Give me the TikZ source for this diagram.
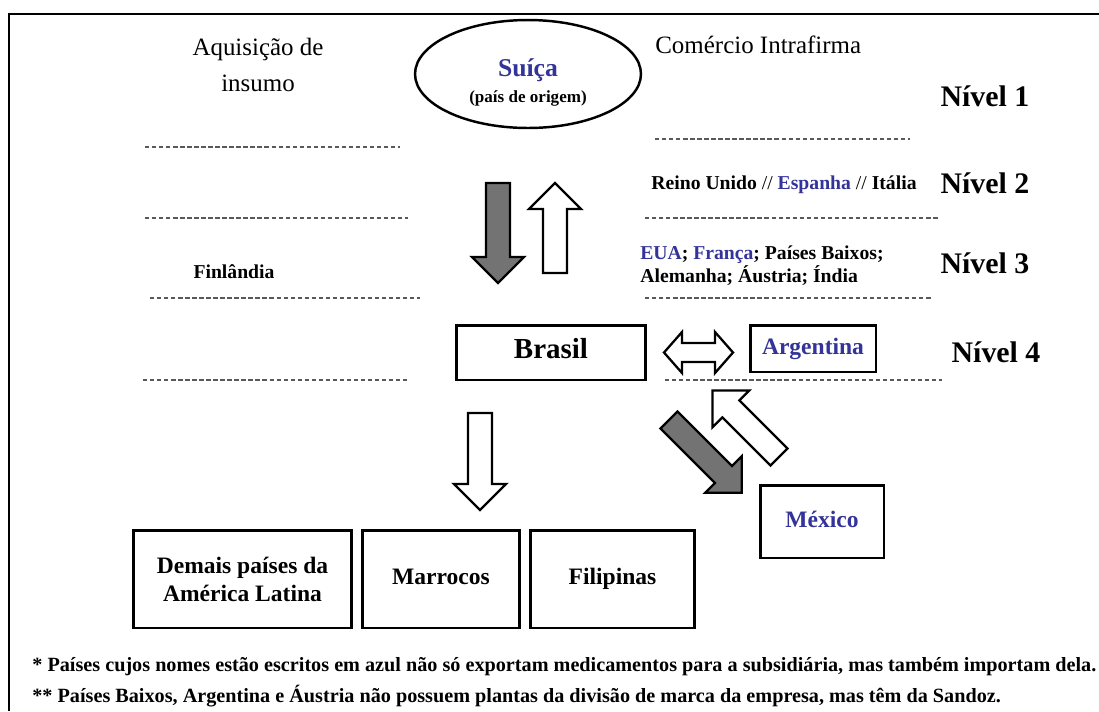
\documentclass[tikz,border=0pt]{standalone}
\usepackage{fontspec}
\setmainfont{Liberation Serif}
\usetikzlibrary{shapes.geometric}
\definecolor{paisazul}{RGB}{51,51,153}

% block arrow: style, tail point, angle, length
\newcommand{\blockarrow}[4]{%
  \draw[#1, shift={#2}, rotate=#3] (0,-12) -- ({#4-26},-12) -- ({#4-26},-26)
    -- (#4,0) -- ({#4-26},26) -- ({#4-26},12) -- (0,12) -- cycle;}

\tikzset{
  bx/.style={draw, line width=1.7pt, inner sep=2pt, align=center,
    font=\bfseries\fontsize{13.4}{16}\selectfont},
  linha/.style={text height=1.45ex, text depth=0pt},
  titulo/.style={align=center, inner sep=0pt, font=\fontsize{14.2}{20.5}\selectfont},
  nivel/.style={inner sep=0pt, font=\bfseries\fontsize{17}{20}\selectfont},
  pais/.style={inner sep=0pt, align=left, font=\bfseries\fontsize{11.2}{13}\selectfont},
  nota/.style={inner sep=0pt, anchor=west, font=\bfseries\fontsize{11.5}{13}\selectfont},
  sep/.style={black!65, line width=0.6pt, dash pattern=on 2.5pt off 1.5pt},
  darkarr/.style={draw, line width=1.3pt, fill=black!55, line join=miter},
  whitearr/.style={draw, line width=1.3pt, fill=white, line join=miter},
}

\begin{document}
\begin{tikzpicture}[x=0.02cm, y=0.02cm]
\useasboundingbox (0,0) rectangle (1099,-711);

% frame (only top and left show)
\draw[line width=1.5pt] (1099,-14) -- (9,-14) -- (9,-711);

% headings
\node[titulo] (aquis) at (258,-65) {Aquisição de\\insumo};
\node[titulo, anchor=west] (comercio) at (655,-45) {Comércio Intrafirma};

\node[draw, ellipse, line width=1.4pt, minimum width=4.52cm, minimum height=2.16cm] (suica) at (528,-74) {};
\node[inner sep=0pt, text=paisazul, font=\bfseries\fontsize{14.6}{16}\selectfont] (suicanome) at (528,-70) {Suíça};
\node[inner sep=0pt, font=\bfseries\fontsize{9.7}{11}\selectfont] (origem) at (528,-98) {(país de origem)};

% levels
\node[nivel] (n1) at (985,-96) {Nível 1};
\node[nivel] (n2) at (985,-183) {Nível 2};
\node[nivel] (n3) at (985,-263) {Nível 3};
\node[nivel] (n4) at (996,-352) {Nível 4};

% dashed separators
\draw[sep] (145,-147) -- (400,-147);
\draw[sep] (655,-139) -- (910,-139);
\draw[sep] (145,-218) -- (408,-218);
\draw[sep] (645,-218) -- (940,-218);
\draw[sep] (150,-298) -- (420,-298);
\draw[sep] (645,-298) -- (932,-298);
\draw[sep] (143,-380) -- (408,-380);
\draw[sep] (665,-380) -- (942,-380);

% countries per level
\node[pais] (reino) at (784,-185) {Reino Unido \textmd{//} \textcolor{paisazul}{Espanha} \textmd{//} Itália};
\node[pais, anchor=west] (eua) at (640,-266) {\textcolor{paisazul}{EUA}; \textcolor{paisazul}{França}; Países Baixos;\\Alemanha; Áustria; Índia};
\node[pais] (finl) at (234,-272) {Finlândia};

% subsidiaries
\node[bx, linha, font=\bfseries\fontsize{16.5}{18}\selectfont, minimum width=3.8cm, minimum height=1.1cm] (brasil) at (551,-352.5) {Brasil};
\node[bx, linha, text=paisazul, minimum width=2.52cm, minimum height=0.94cm] (argentina) at (813,-348.5) {Argentina};
\node[bx, linha, text=paisazul, minimum width=2.48cm, minimum height=1.46cm] (mexico) at (822,-521.5) {México};
\node[bx, minimum width=4.38cm, minimum height=1.96cm] (demais) at (242.5,-579) {Demais países da\\América Latina};
\node[bx, linha, minimum width=3.16cm, minimum height=1.96cm] (marrocos) at (441,-579) {Marrocos};
\node[bx, linha, minimum width=3.3cm, minimum height=1.96cm] (filipinas) at (612.5,-579) {Filipinas};

% flows
\blockarrow{darkarr}{(498,-183)}{-90}{100}
\blockarrow{whitearr}{(555,-273)}{90}{90}
\blockarrow{whitearr}{(480,-413)}{-90}{97}
\blockarrow{whitearr}{(779,-457)}{135}{94}
\blockarrow{darkarr}{(669,-420)}{-45}{103}
\draw[whitearr] (664,-352.5) -- (682,-332) -- (682,-343) -- (715,-343) -- (715,-332)
  -- (733,-352.5) -- (715,-373) -- (715,-362) -- (682,-362) -- (682,-373) -- cycle;

% notes
\node[nota] (nota1) at (32,-667) {* Países cujos nomes estão escritos em azul não só exportam medicamentos para a subsidiária, mas também importam dela.};
\node[nota] (nota2) at (32,-696) {** Países Baixos, Argentina e Áustria não possuem plantas da divisão de marca da empresa, mas têm da Sandoz.};

\end{tikzpicture}
\end{document}
